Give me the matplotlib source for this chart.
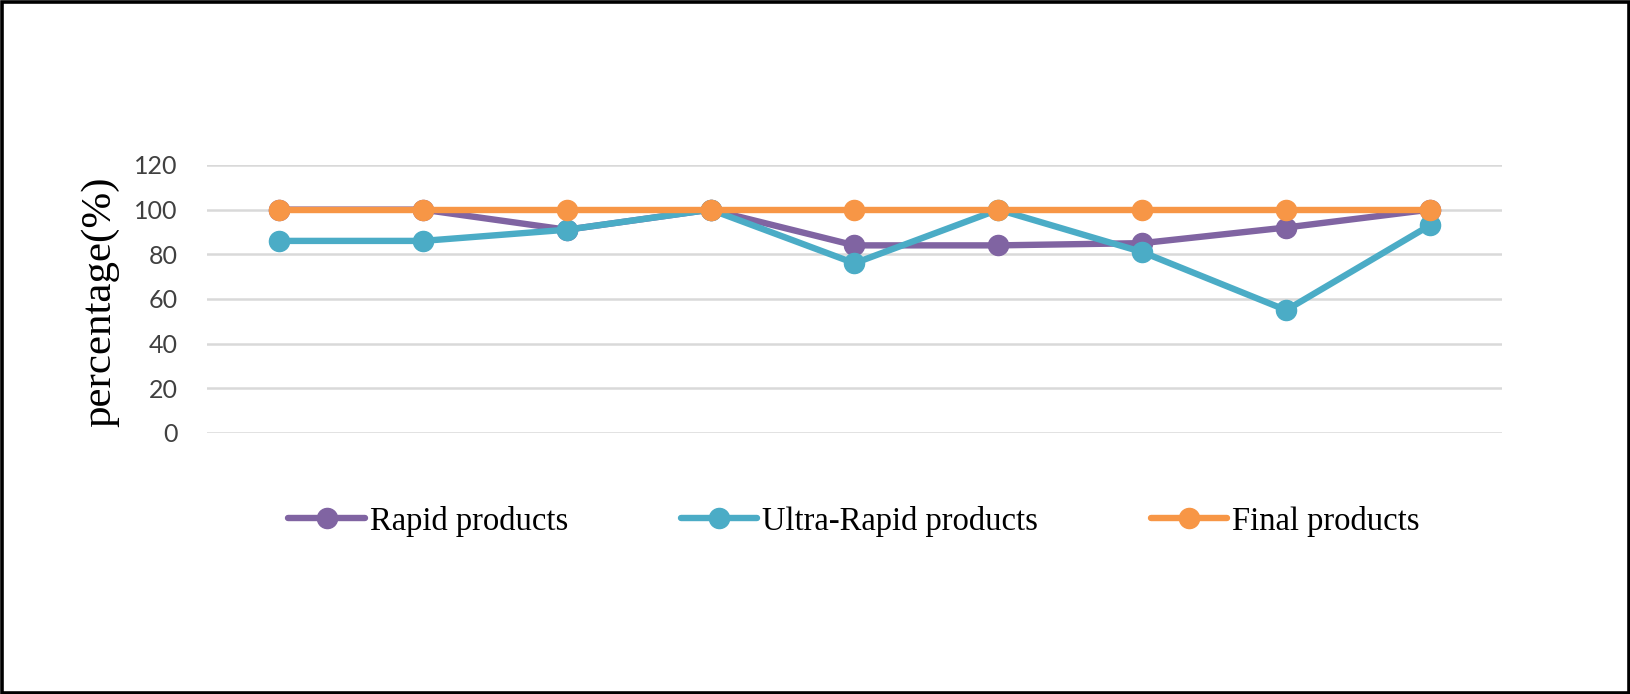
import matplotlib
matplotlib.use("Agg")
import matplotlib.pyplot as plt
from matplotlib.patches import Rectangle

# data
points = [1, 2, 3, 4, 5, 6, 7, 8, 9]
rapid = [100, 100, 91, 100, 84, 84, 85, 92, 100]
ultra_rapid = [86, 86, 91, 100, 76, 100, 81, 55, 93]
final = [100, 100, 100, 100, 100, 100, 100, 100, 100]
series_names = ["Rapid products", "Ultra-Rapid products", "Final products"]
colors = ["#8064A2", "#4BACC6", "#F79646"]
yticks = [0, 20, 40, 60, 80, 100, 120]

fig = plt.figure(figsize=(16.31, 6.94), dpi=100)
ax = fig.add_axes([0.1269, 0.3761, 0.7940, 0.3862])

for vals, name, c in zip([rapid, ultra_rapid, final], series_names, colors):
    ax.plot(points, vals, color=c, lw=4.6, marker="o", ms=14.5,
            label=name, solid_joinstyle="round", solid_capstyle="round",
            clip_on=False)

ax.set_xlim(0.5, 9.5)
ax.set_ylim(0, 120)
ax.set_yticks(yticks)
ax.set_xticks([])
ax.grid(axis="y", color="#D9D9D9", lw=1.8)
ax.set_axisbelow(True)
for s in ax.spines.values():
    s.set_visible(False)
ax.tick_params(axis="y", length=0, pad=21, labelsize=18, labelcolor="#404040")
for t in ax.get_yticklabels():
    t.set_family("Lato")

fig.text(100 / 1631, 1 - 302 / 694, "percentage(%)", rotation=90,
         ha="center", va="center", fontsize=31, family="Liberation Serif")

fig.legend(loc="center", bbox_to_anchor=(0.5236, 0.2490), ncol=3,
           frameon=False, handlelength=2.35, handletextpad=0.15,
           columnspacing=3.45, prop={"family": "Liberation Serif", "size": 23.5})

# outer black frame
fig.patches.append(Rectangle((0.0012, 0.002), 0.9976, 0.995, transform=fig.transFigure,
                             fill=False, edgecolor="black", lw=2.6))

fig.savefig("out.png", dpi=100)
